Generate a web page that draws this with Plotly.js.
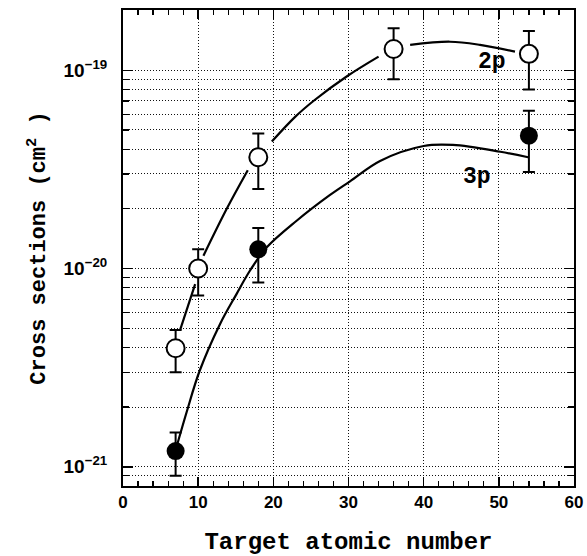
<!DOCTYPE html>
<html>
<head>
<meta charset="utf-8">
<script src="https://cdn.plot.ly/plotly-3.0.1.min.js"></script>
<style>html,body{margin:0;padding:0;background:#fff;}#chart{width:587px;height:556px;}#status{position:absolute;left:0;top:0;width:1px;height:1px;overflow:hidden;color:#fff;}</style>
</head>
<body>
<div id="chart"></div>
<div id="status"></div>
<script>
let statusMsg = '';
window.onerror = function(m){ statusMsg += 'onerror: ' + m + '\n'; };

// Measured cross sections (cm^2) vs target atomic number
const z2p = [7, 10, 18, 36, 54];
const s2p = [3.96e-21, 1.0e-20, 3.64e-20, 1.28e-19, 1.21e-19];
const s2pHi = [4.9e-21, 1.25e-20, 4.8e-20, 1.63e-19, 1.58e-19];
const s2pLo = [3.0e-21, 7.3e-21, 2.52e-20, 9.0e-20, 8.0e-20];

const z3p = [7, 18, 54];
const s3p = [1.2e-21, 1.25e-20, 4.68e-20];
const s3pHi = [1.49e-21, 1.6e-20, 6.25e-20];
const s3pLo = [9.0e-22, 8.5e-21, 3.07e-20];

// Fitted curves (null = break in the drawn line)
const fit2pX = [7.6, 9.6, null, 10.7, 13.8, 16.6, null, 19.8, 22.9, 25.5, 29.8, 34.0, null, 38.2, 43.5, 47.5, 52.15];
const fit2pY = [4.90e-21, 8.34e-21, null, 1.159e-20, 2.0e-20, 3.13e-20, null, 4.37e-20, 5.82e-20, 7.08e-20, 9.33e-20, 1.172e-19, null, 1.343e-19, 1.393e-19, 1.343e-19, 1.242e-19];

const fit3pX = [7.1, 8.5, 10.2, 12.9, 15.1, 16.9, 19.1, 23.1, 27.5, 30.2, 34.2, 40.0, 43.9, 50.2, 53.9];
const fit3pY = [1.25e-21, 1.905e-21, 3.05e-21, 5.24e-21, 7.43e-21, 9.77e-21, 1.276e-20, 1.742e-20, 2.344e-20, 2.754e-20, 3.49e-20, 4.15e-20, 4.20e-20, 3.88e-20, 3.64e-20];

const xTickVals = [0, 10, 20, 30, 40, 50, 60];
const xTickText = ['<b>0</b>', '<b>10</b>', '<b>20</b>', '<b>30</b>', '<b>40</b>', '<b>50</b>', '<b>60</b>'];
const majorY = [1e-21, 1e-20, 1e-19];
const majorYText = ['<b>10<sup>\u221221</sup></b>', '<b>10<sup>\u221220</sup></b>', '<b>10<sup>\u221219</sup></b>'];
const minorMult = [2, 3, 4, 5, 6, 7, 8, 9];
const minorDecades = [1e-22, 1e-21, 1e-20, 1e-19];

const minorY = [];
minorDecades.forEach(d => minorMult.forEach(m => minorY.push(m * d)));

const errPlus = (hi, v) => hi.map((h, i) => h - v[i]);
const errMinus = (lo, v) => lo.map((l, i) => v[i] - l);

const traces = [
  {x: fit2pX, y: fit2pY, mode: 'lines', line: {color: '#000', width: 2.2, shape: 'spline'}, connectgaps: false, showlegend: false},
  {x: fit3pX, y: fit3pY, mode: 'lines', line: {color: '#000', width: 2.2, shape: 'spline'}, showlegend: false},
  {x: z2p, y: s2p, mode: 'markers', showlegend: false,
   marker: {symbol: 'circle', size: 18, color: '#fff', line: {color: '#000', width: 2}},
   error_y: {type: 'data', symmetric: false, array: errPlus(s2pHi, s2p), arrayminus: errMinus(s2pLo, s2p), color: '#000', thickness: 2, width: 6}},
  {x: z3p, y: s3p, mode: 'markers', showlegend: false,
   marker: {symbol: 'circle', size: 18, color: '#000'},
   error_y: {type: 'data', symmetric: false, array: errPlus(s3pHi, s3p), arrayminus: errMinus(s3pLo, s3p), color: '#000', thickness: 2, width: 6}}
];

const gridDash = '1px,2px';
const sansFont = 'Liberation Sans, Arial, sans-serif';
const monoFont = 'Liberation Mono, Courier New, monospace';
const layout = {
  width: 587, height: 556,
  margin: {l: 123, r: 13, t: 10, b: 70},
  font: {family: sansFont, size: 17, color: '#000'},
  xaxis: {
    range: [0, 60], tickmode: 'array', tickvals: xTickVals, ticktext: xTickText,
    ticks: 'inside', ticklen: 9, tickwidth: 1.5, tickcolor: '#000',
    showline: true, linewidth: 2, linecolor: '#000', mirror: 'ticks',
    showgrid: true, gridcolor: '#111', gridwidth: 1, griddash: gridDash, zeroline: false,
    minor: {tickmode: 'linear', tick0: 0, dtick: 2, ticks: 'inside', ticklen: 5, tickwidth: 1.2, tickcolor: '#000', showgrid: false},
    tickfont: {family: sansFont, size: 17, color: '#000'},
    title: {text: '<b>Target atomic number</b>', standoff: 24, font: {family: monoFont, size: 24}}
  },
  yaxis: {
    type: 'log', range: [-21.097, -18.696],
    tickmode: 'array', tickvals: majorY, ticktext: majorYText,
    ticks: 'inside', ticklen: 10, tickwidth: 1.5, tickcolor: '#000', ticklabelstandoff: 10,
    showline: true, linewidth: 2, linecolor: '#000', mirror: 'ticks',
    showgrid: true, gridcolor: '#111', gridwidth: 1, griddash: gridDash, zeroline: false,
    minor: {tickmode: 'array', tickvals: minorY, ticks: 'inside', ticklen: 6, tickwidth: 1.2, tickcolor: '#000',
            showgrid: true, gridcolor: '#111', gridwidth: 1, griddash: gridDash},
    tickfont: {family: sansFont, size: 19, color: '#000'},
    title: {text: '<b>Cross sections (cm<sup>2</sup> )</b>', standoff: 12, font: {family: monoFont, size: 22}}
  },
  annotations: [
    {x: 49.05, y: Math.log10(1.104e-19), xref: 'x', yref: 'y', text: '<b>2p</b>', showarrow: false, font: {family: monoFont, size: 23}},
    {x: 47.05, y: Math.log10(2.90e-20), xref: 'x', yref: 'y', text: '<b>3p</b>', showarrow: false, font: {family: monoFont, size: 23}}
  ]
};

Plotly.newPlot('chart', traces, layout, {staticPlot: true}).then(gd => {
  statusMsg += 'x tickfont size: ' + gd._fullLayout.xaxis.tickfont.size + '\n';
  document.getElementById('status').textContent = statusMsg;
}).catch(e => { document.getElementById('status').textContent = statusMsg + 'ERR ' + e; });
</script>
</body>
</html>
